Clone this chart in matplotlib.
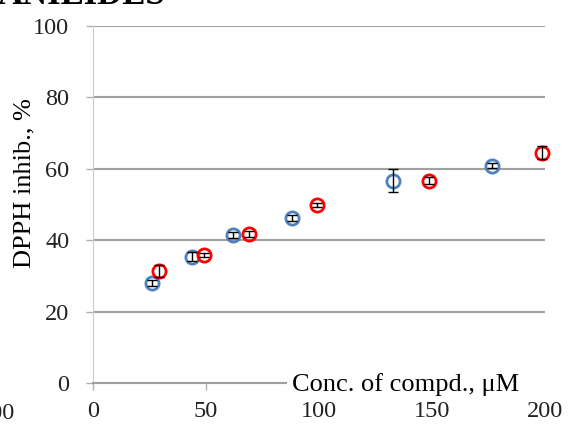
import matplotlib
matplotlib.use("Agg")
import matplotlib.pyplot as plt
from matplotlib.patches import Rectangle

# series
conc_blue = [26, 43.7, 61.8, 88.2, 132.9, 176.7]
inhib_blue = [28.1, 35.4, 41.4, 46.2, 56.6, 60.9]
err_blue = [0.8, 1.3, 0.8, 0.8, 3.2, 0.6]

conc_red = [29.3, 49.3, 69, 99.1, 148.5, 198.8]
inhib_red = [31.4, 35.8, 41.7, 49.8, 56.7, 64.5]
err_red = [1.6, 0.6, 0.8, 0.5, 1.0, 1.8]

x_ticks = [0, 50, 100, 150, 200]
y_ticks = [0, 20, 40, 60, 80, 100]

plt.rcParams['font.family'] = ['Liberation Serif', 'DejaVu Serif']

fig = plt.figure(figsize=(5.69, 4.26), dpi=100)
ax = fig.add_axes([0.1634, 0.101, 0.7944, 0.838])

ax.set_xlim(0, 200)
ax.set_ylim(0, 100)
ax.set_xticks(x_ticks)
ax.set_yticks(y_ticks)
ax.tick_params(axis='both', labelsize=17.5, colors='#b0b0b0', labelcolor='#222222',
               length=5, width=1)
ax.tick_params(axis='y', pad=12)
ax.tick_params(axis='x', pad=8)
ax.yaxis.grid(True, color='#a0a0a0', lw=1.5)
ax.set_axisbelow(True)
for s in ['top', 'right']:
    ax.spines[s].set_visible(False)
ax.spines['left'].set_color('#cccccc')
ax.spines['bottom'].set_color('#a0a0a0')
ax.spines['bottom'].set_linewidth(1.5)

ax.plot(conc_blue, inhib_blue, 'o', ms=9.5, mfc='none', mec='#4f81bd', mew=2,
        zorder=3, clip_on=False)
ax.plot(conc_red, inhib_red, 'o', ms=9.5, mfc='none', mec='#ff0000', mew=2,
        zorder=3, clip_on=False)
for x, y, e in [(conc_blue, inhib_blue, err_blue), (conc_red, inhib_red, err_red)]:
    eb = ax.errorbar(x, y, yerr=e, fmt='none', ecolor='black',
                     elinewidth=1, capsize=3.5, zorder=4)
    for art in eb.get_children():
        art.set_clip_on(False)

ax.set_ylabel('DPPH inhib., %', fontsize=19)
ax.yaxis.set_label_coords(-0.128, 0.56)

# x-axis title sits in a white box over the axis line
fig.add_artist(Rectangle((287 / 569, 1 - 396 / 426), 1, 26 / 426,
                         transform=fig.transFigure, facecolor='white',
                         edgecolor='none', zorder=5))
fig.text(292 / 569, 1 - 385 / 426, 'Conc. of compd., \u03bcM', fontsize=19,
         ha='left', va='center', zorder=6)

# bits of neighbouring content cropped into the picture
fig.text(0.29, 0.99, 'ANILIDES', fontsize=25, fontweight='bold', ha='right', va='baseline')
fig.text(0.027, 0.03, '200', fontsize=17.5, ha='right', va='center', color='#222222')

fig.savefig('out.png', dpi=100)
